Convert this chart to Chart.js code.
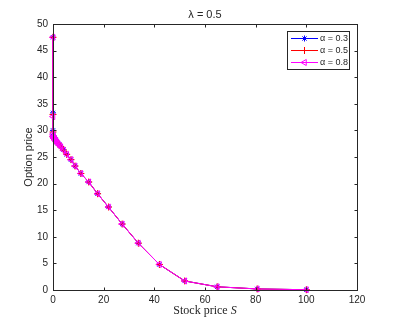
<!DOCTYPE html>
<html>
<head>
<meta charset="utf-8">
<script src="https://cdn.jsdelivr.net/npm/chart.js@4/dist/chart.umd.min.js"></script>
<style>
  html, body { margin: 0; padding: 0; background: #fff; }
  #wrap { width: 395px; height: 325px; }
</style>
</head>
<body>
<div id="wrap"><canvas id="chart" width="395" height="325"></canvas></div>
<script>
// stock price grid (shared by all three runs)
const stockPrice = [0, 0, 0, 0.05, 0.1, 0.2, 0.3, 0.45, 0.6, 0.8, 1.0, 1.3, 1.6, 2.0, 2.5, 3.1,
  4.1, 5.4, 7.1, 8.7, 11.0, 14.1, 17.6, 21.9, 27.3, 33.7, 42.0, 52.0, 64.8, 80.6, 100];

// option prices
const priceAlpha03 = [47.5, 33.3, 30.0, 29.0, 28.9, 28.8, 28.7, 28.6, 28.5, 28.3, 28.2, 28.0, 27.8, 27.6, 27.3, 27.0,
  26.4, 25.5, 24.5, 23.3, 21.9, 20.3, 18.1, 15.6, 12.4, 8.8, 4.8, 1.7, 0.6, 0.2, 0.05];
const priceAlpha05 = [47.5, 33.0, 29.7, 28.9, 28.8, 28.7, 28.6, 28.5, 28.4, 28.2, 28.1, 27.9, 27.7, 27.5, 27.2, 26.9,
  26.3, 25.5, 24.5, 23.3, 21.9, 20.3, 18.1, 15.6, 12.4, 8.8, 4.8, 1.7, 0.6, 0.2, 0.05];
const priceAlpha08 = [47.5, 32.6, 29.3, 28.9, 28.8, 28.7, 28.6, 28.5, 28.4, 28.2, 28.1, 27.9, 27.7, 27.5, 27.2, 26.9,
  26.3, 25.5, 24.5, 23.3, 21.9, 20.3, 18.1, 15.6, 12.4, 8.8, 4.8, 1.7, 0.6, 0.2, 0.05];

const seriesLabels = ['\u03b1 = 0.3', '\u03b1 = 0.5', '\u03b1 = 0.8'];
const xTicks = [0, 20, 40, 60, 80, 100, 120];
const yTicks = [0, 5, 10, 15, 20, 25, 30, 35, 40, 45, 50];

const axisColor = '#262626';

const toPoints = function(xs, ys) {
  return xs.map((x, i) => ({ x: x, y: ys[i] }));
}

const makeSet = function(label, ys, color, style, rotation, radius, order) {
  return {
    label: label,
    data: toPoints(stockPrice, ys),
    showLine: true,
    borderColor: color,
    backgroundColor: color,
    borderWidth: 1,
    pointStyle: style,
    rotation: rotation,
    pointRadius: radius,
    pointBorderColor: color,
    pointBackgroundColor: 'rgba(0,0,0,0)',
    pointBorderWidth: 1,
    clip: false,
    order: order
  };
}

const datasets = [
  makeSet(seriesLabels[0], priceAlpha03, '#0000ff', 'star', 0, 3, 2),
  makeSet(seriesLabels[1], priceAlpha05, '#ff0000', 'cross', 0, 3.5, 1),
  makeSet(seriesLabels[2], priceAlpha08, '#ff00ff', 'triangle', -90, 3.5, 0)
];

// box, inward ticks, titles and legend drawn like the matlab figure
const decorPlugin = {
  id: 'decor',
  afterDraw(chart) {
    const ctx = chart.ctx;
    const a = chart.chartArea;
    const xs = chart.scales.x, ys = chart.scales.y;
    ctx.save();
    ctx.strokeStyle = axisColor;
    ctx.lineWidth = 1;
    const L = Math.round(a.left) + 0.5, R = Math.round(a.right) + 0.5;
    const T = Math.round(a.top) + 0.5, B = Math.round(a.bottom) + 0.5;
    ctx.strokeRect(L, T, R - L, B - T);
    ctx.beginPath();
    xTicks.forEach(v => {
      const px = Math.round(xs.getPixelForValue(v)) + 0.5;
      ctx.moveTo(px, B); ctx.lineTo(px, B - 3);
      ctx.moveTo(px, T); ctx.lineTo(px, T + 3);
    });
    yTicks.forEach(v => {
      const py = Math.round(ys.getPixelForValue(v)) + 0.5;
      ctx.moveTo(L, py); ctx.lineTo(L + 3, py);
      ctx.moveTo(R, py); ctx.lineTo(R - 3, py);
    });
    ctx.stroke();

    // title
    ctx.fillStyle = axisColor;
    ctx.textAlign = 'center';
    ctx.textBaseline = 'middle';
    ctx.font = '11px "Liberation Sans", Arial, sans-serif';
    ctx.fillText('\u03bb = 0.5', (a.left + a.right) / 2, 15);

    // y title
    ctx.save();
    ctx.translate(29, (a.top + a.bottom) / 2);
    ctx.rotate(-Math.PI / 2);
    ctx.font = '11px "Liberation Sans", Arial, sans-serif';
    ctx.fillText('Option price', 0, 0);
    ctx.restore();

    // x title, serif with italic S
    ctx.textAlign = 'left';
    const part1 = 'Stock price ';
    ctx.font = '12px "Liberation Serif", "Times New Roman", serif';
    const w1 = ctx.measureText(part1).width;
    ctx.font = 'italic 12px "Liberation Serif", "Times New Roman", serif';
    const w2 = ctx.measureText('S').width;
    const x0 = (a.left + a.right) / 2 - (w1 + w2) / 2;
    ctx.font = '12px "Liberation Serif", "Times New Roman", serif';
    ctx.fillText(part1, x0, 311);
    ctx.font = 'italic 12px "Liberation Serif", "Times New Roman", serif';
    ctx.fillText('S', x0 + w1, 311);

    // legend
    const bx = 287.5, by = 31.5, bw = 62, bh = 38;
    ctx.fillStyle = '#fff';
    ctx.fillRect(bx, by, bw, bh);
    ctx.strokeStyle = axisColor;
    ctx.strokeRect(bx, by, bw, bh);
    ctx.font = '9px "Liberation Sans", Arial, sans-serif';
    ctx.textBaseline = 'middle';
    chart.data.datasets.forEach((ds, i) => {
      const ly = 38.5 + i * 12;
      ctx.strokeStyle = ds.borderColor;
      ctx.lineWidth = 1;
      ctx.beginPath();
      ctx.moveTo(291, ly); ctx.lineTo(318, ly);
      ctx.stroke();
      if (Chart.helpers && Chart.helpers.drawPoint) {
        ctx.fillStyle = 'rgba(0,0,0,0)';
        Chart.helpers.drawPoint(ctx, {
          pointStyle: ds.pointStyle, rotation: ds.rotation,
          radius: ds.pointRadius, borderWidth: 1
        }, 304.5, ly);
      }
      ctx.fillStyle = axisColor;
      ctx.fillText(ds.label, 320, ly + 0.5);
    });
    ctx.restore();
  }
};

const chart = new Chart(document.getElementById('chart').getContext('2d'), {
  type: 'scatter',
  data: { datasets: datasets },
  options: {
    responsive: false,
    animation: false,
    layout: { padding: { top: 24, right: 38, left: 0, bottom: 0 } },
    plugins: {
      legend: { display: false },
      tooltip: { enabled: false },
      title: { display: false }
    },
    scales: {
      x: {
        type: 'linear',
        min: 0, max: 120,
        afterFit: (scale) => { scale.height = 35; },
        afterBuildTicks: (scale) => { scale.ticks = xTicks.map(v => ({ value: v })); },
        grid: { display: false, drawTicks: false, tickLength: 0 },
        border: { display: false },
        ticks: {
          color: axisColor,
          padding: 4,
          maxRotation: 0,
          font: { family: '"Liberation Sans", Arial, sans-serif', size: 10 }
        }
      },
      y: {
        type: 'linear',
        min: 0, max: 50,
        afterFit: (scale) => { scale.width = 53; },
        afterBuildTicks: (scale) => { scale.ticks = yTicks.map(v => ({ value: v })); },
        grid: { display: false, drawTicks: false, tickLength: 0 },
        border: { display: false },
        ticks: {
          color: axisColor,
          padding: 5,
          font: { family: '"Liberation Sans", Arial, sans-serif', size: 10 }
        }
      }
    }
  },
  plugins: [decorPlugin]
});
</script>
</body>
</html>
